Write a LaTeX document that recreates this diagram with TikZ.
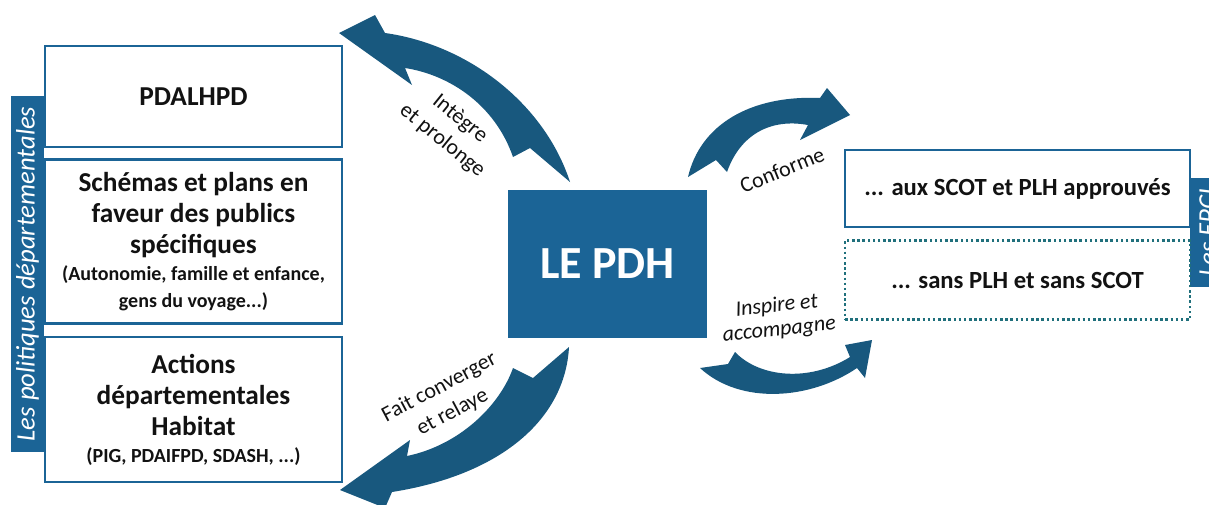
\documentclass[tikz,border=0pt]{standalone}
\usepackage{fontspec}
\setmainfont{Carlito}
\usetikzlibrary{positioning}

\definecolor{pdhblue}{RGB}{27,100,150}
\definecolor{arrowblue}{RGB}{24,88,126}
\definecolor{epcidots}{RGB}{32,112,124}
\definecolor{txt}{RGB}{18,18,18}
\newlength{\pxu}\setlength{\pxu}{0.75pt}
\newcommand{\parfont}{\fontsize{15}{18}\selectfont}

\tikzset{
  polbox/.style={draw=pdhblue, line width=2.5\pxu, fill=white, text=txt, align=center,
    inner sep=0pt, minimum width=297\pxu, font=\bfseries\fontsize{20.5}{23.25}\selectfont},
  epcibox/.style={draw=pdhblue, line width=2.5\pxu, fill=white, text=txt, align=center,
    inner sep=0pt, minimum width=345\pxu, font=\bfseries\fontsize{18.5}{20}\selectfont},
  tab/.style={fill=pdhblue, text=white, inner sep=0pt, font=\itshape\fontsize{20}{22}\selectfont},
  verb/.style={text=txt, align=center, font=\fontsize{16.5}{21}\selectfont},
  bigarrow/.style={fill=arrowblue}
}

\begin{document}
\begin{tikzpicture}[x=0.75pt, y=-0.75pt]
  \clip (0,0) rectangle (1209,504);
  \fill[white] (0,0) rectangle (1209,504);

  % tabs
  \node[tab, rotate=90, minimum width=356\pxu, minimum height=33\pxu] (poltab) at (27.5,274) {Les politiques départementales};
  \node[tab, rotate=90, minimum width=109\pxu, minimum height=36\pxu] (epcitab) at (1208,232.5) {Les EPCI};

  % departmental policies
  \node[polbox, minimum height=101\pxu] (pdalhpd) at (193.5,96.5) {PDALHPD};
  \node[polbox, minimum height=164\pxu, below=10\pxu of pdalhpd] (schemas) {Schémas et plans en\\faveur des publics\\spécifiques\\[-3pt]
    {\parfont (Autonomie, famille et enfance,}\\[-3pt]{\parfont gens du voyage...)}};
  \node[polbox, minimum height=145\pxu, below=11\pxu of schemas] (actions) {Actions\\départementales\\Habitat\\[-3pt]
    {\parfont (PIG, PDAIFPD, SDASH, ...)}};

  % the plan
  \node[fill=pdhblue, text=white, minimum width=199\pxu, minimum height=148\pxu,
    font=\bfseries\fontsize{34.5}{40}\selectfont] (pdh) at (607.5,264) {LE PDH};

  % EPCI
  \node[epcibox, minimum height=77\pxu] (scot) at (1017.5,188.5) {... aux SCOT et PLH approuvés};
  \node[epcibox, draw=epcidots, dotted, minimum height=79\pxu, below=11\pxu of scot] (sansplh) {... sans PLH et sans SCOT};

  % curved arrows
  \fill[bigarrow] (570,182) .. controls (545,105) and (470,45) .. (385,33) -- (375,15) -- (339,33)
    -- (412,85) -- (405,68) .. controls (450,75) and (495,105) .. (513,157) -- (530,148) -- cycle;
  \fill[bigarrow] (569,347) .. controls (565,420) and (500,475) .. (392,492) -- (385,508) -- (340,490)
    -- (410,440) -- (407,456) .. controls (460,445) and (500,405) .. (513,368) -- (533,378) -- cycle;
  \fill[bigarrow] (688,177) .. controls (700,125) and (750,95) .. (820,98) -- (827,88) -- (850,115)
    -- (800,140) -- (808,125) .. controls (770,118) and (740,135) .. (727,172) -- (716,160) -- cycle;
  \fill[bigarrow] (700,368) .. controls (740,405) and (810,400) .. (857,368) -- (865,378) -- (872,340)
    -- (845,345) -- (850,357) .. controls (810,382) and (760,378) .. (735,352) -- (728,364) -- cycle;

  % arrow labels
  \node[verb, rotate=-39] (integre) at (451,130) {Intègre\\et prolonge};
  \node[verb, rotate=28] (converge) at (446,400) {Fait converger\\et relaye};
  \node[verb, rotate=22] (conforme) at (782,170) {Conforme};
  \node[verb, rotate=6, font=\itshape\fontsize{16.5}{18}\selectfont] (inspire) at (778,318) {Inspire et\\accompagne};
\end{tikzpicture}
\end{document}
